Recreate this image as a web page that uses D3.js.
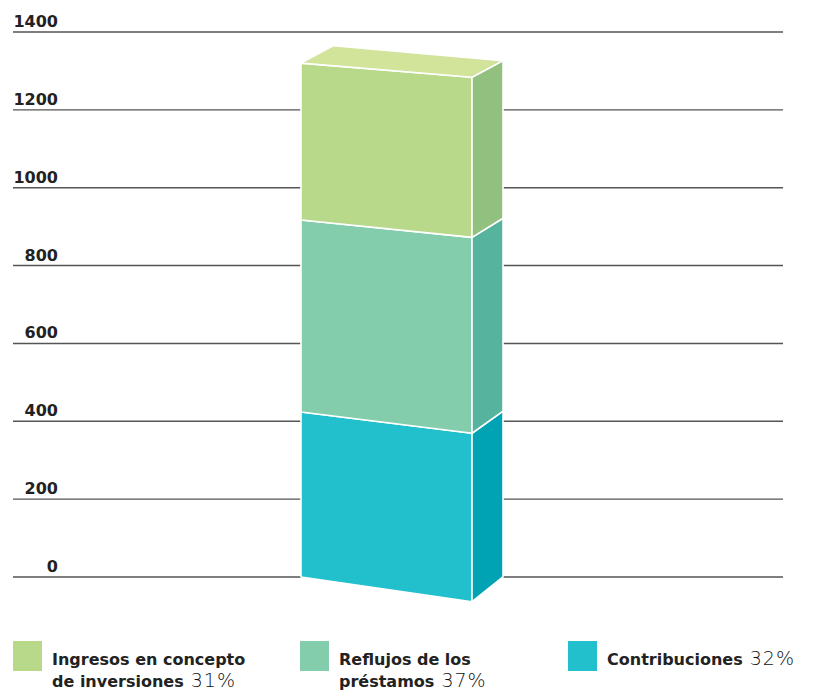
<!DOCTYPE html>
<html>
<head>
<meta charset="utf-8">
<script src="https://cdn.jsdelivr.net/npm/d3@7"></script>
<style>
  html, body { margin: 0; padding: 0; background: #fff; }
  svg { display: block; }
</style>
</head>
<body>
<svg id="chart" width="813" height="690"></svg>
<script>
// ---- data ----
const categories = ["Contribuciones", "Reflujos de los préstamos", "Ingresos en concepto de inversiones"];
const values = [424, 493, 403];
const percents = [32, 37, 31];
const yTicks = [0, 200, 400, 600, 800, 1000, 1200, 1400];
const legendOrder = [2, 1, 0];
const legendLines = [["Contribuciones"], ["Reflujos de los", "préstamos"], ["Ingresos en concepto", "de inversiones"]];

const frontColors = ["#22bfcd", "#83cdac", "#b9d98a"];
const sideColors  = ["#00a3b4", "#56b39d", "#92c07f"];
const topColor = "#d2e39a";

// ---- layout ----
const svg = d3.select("#chart");
const gridLeft = 13, gridRight = 783;
const y = d3.scaleLinear().domain([0, 1400]).range([577, 32]);

// perspective edges of the 3D bar (front-left, front-right, back-right, back-left)
const xFL = 301, xFR = 472, xBR = 503, xBL = 333;
const yFL = y;
const yFR = d3.scaleLinear().domain([0, 1400]).range([601.7, 601.7 - 1400 * 0.3973]);
const yBR = d3.scaleLinear().domain([0, 1400]).range([577, 577 - 1400 * 0.3912]);
const yBL = d3.scaleLinear().domain([0, 1400]).range([553, 553 - 1400 * 0.3843]);

// gridlines
svg.append("g").selectAll("line").data(yTicks).join("line")
  .attr("x1", gridLeft).attr("x2", gridRight)
  .attr("y1", d => y(d)).attr("y2", d => y(d))
  .attr("stroke", "#555").attr("stroke-width", 1.4);

// tick labels
svg.append("g").selectAll("text").data(yTicks).join("text")
  .attr("x", 58).attr("y", d => y(d) - 5)
  .attr("text-anchor", "end")
  .attr("font-family", "DejaVu Sans, sans-serif")
  .attr("font-weight", "bold")
  .attr("font-size", 16)
  .attr("fill", "#222")
  .text(d => d);

// stacked segments
const stackData = [];
let acc = 0;
values.forEach((v, i) => { stackData.push({ i, v0: acc, v1: acc + v }); acc += v; });
const total = acc;

const bar = svg.append("g");
const poly = pts => "M" + pts.map(p => p.join(",")).join("L") + "Z";

// front faces
bar.selectAll("path.front").data(stackData).join("path")
  .attr("class", "front")
  .attr("d", d => poly([[xFL, yFL(d.v0)], [xFR, yFR(d.v0)], [xFR, yFR(d.v1)], [xFL, yFL(d.v1)]]))
  .attr("fill", d => frontColors[d.i])
  .attr("stroke", "#fff").attr("stroke-width", 1.6).attr("stroke-linejoin", "round");

// side faces
bar.selectAll("path.side").data(stackData).join("path")
  .attr("class", "side")
  .attr("d", d => poly([[xFR, yFR(d.v0)], [xBR, yBR(d.v0)], [xBR, yBR(d.v1)], [xFR, yFR(d.v1)]]))
  .attr("fill", d => sideColors[d.i])
  .attr("stroke", "#fff").attr("stroke-width", 1.6).attr("stroke-linejoin", "round");

// top face
bar.append("path")
  .attr("d", poly([[xFL, yFL(total)], [xFR, yFR(total)], [xBR, yBR(total)], [xBL, yBL(total)]]))
  .attr("fill", topColor)
  .attr("stroke", "#fff").attr("stroke-width", 1.6).attr("stroke-linejoin", "round");

// legend
const legendX = [13, 300, 568];
const lg = svg.append("g").selectAll("g").data(legendOrder).join("g")
  .attr("transform", (d, k) => `translate(${legendX[k]},641)`);
lg.append("rect").attr("width", 29).attr("height", 30)
  .attr("fill", d => frontColors[d]);
lg.each(function(d) {
  const g = d3.select(this);
  const lines = legendLines[d];
  const t = g.append("text")
    .attr("font-family", "DejaVu Sans, sans-serif")
    .attr("fill", "#222");
  lines.forEach((ln, j) => {
    t.append("tspan").attr("x", 39).attr("y", 24 + j * 21.5)
      .attr("font-weight", "bold").attr("font-size", 16).text(ln);
    if (j === lines.length - 1) {
      t.append("tspan").attr("font-weight", 300).attr("font-size", 19)
        .attr("letter-spacing", 1)
        .attr("fill", "#111")
        .text(" " + percents[d] + "%");
    }
  });
});
</script>
</body>
</html>
